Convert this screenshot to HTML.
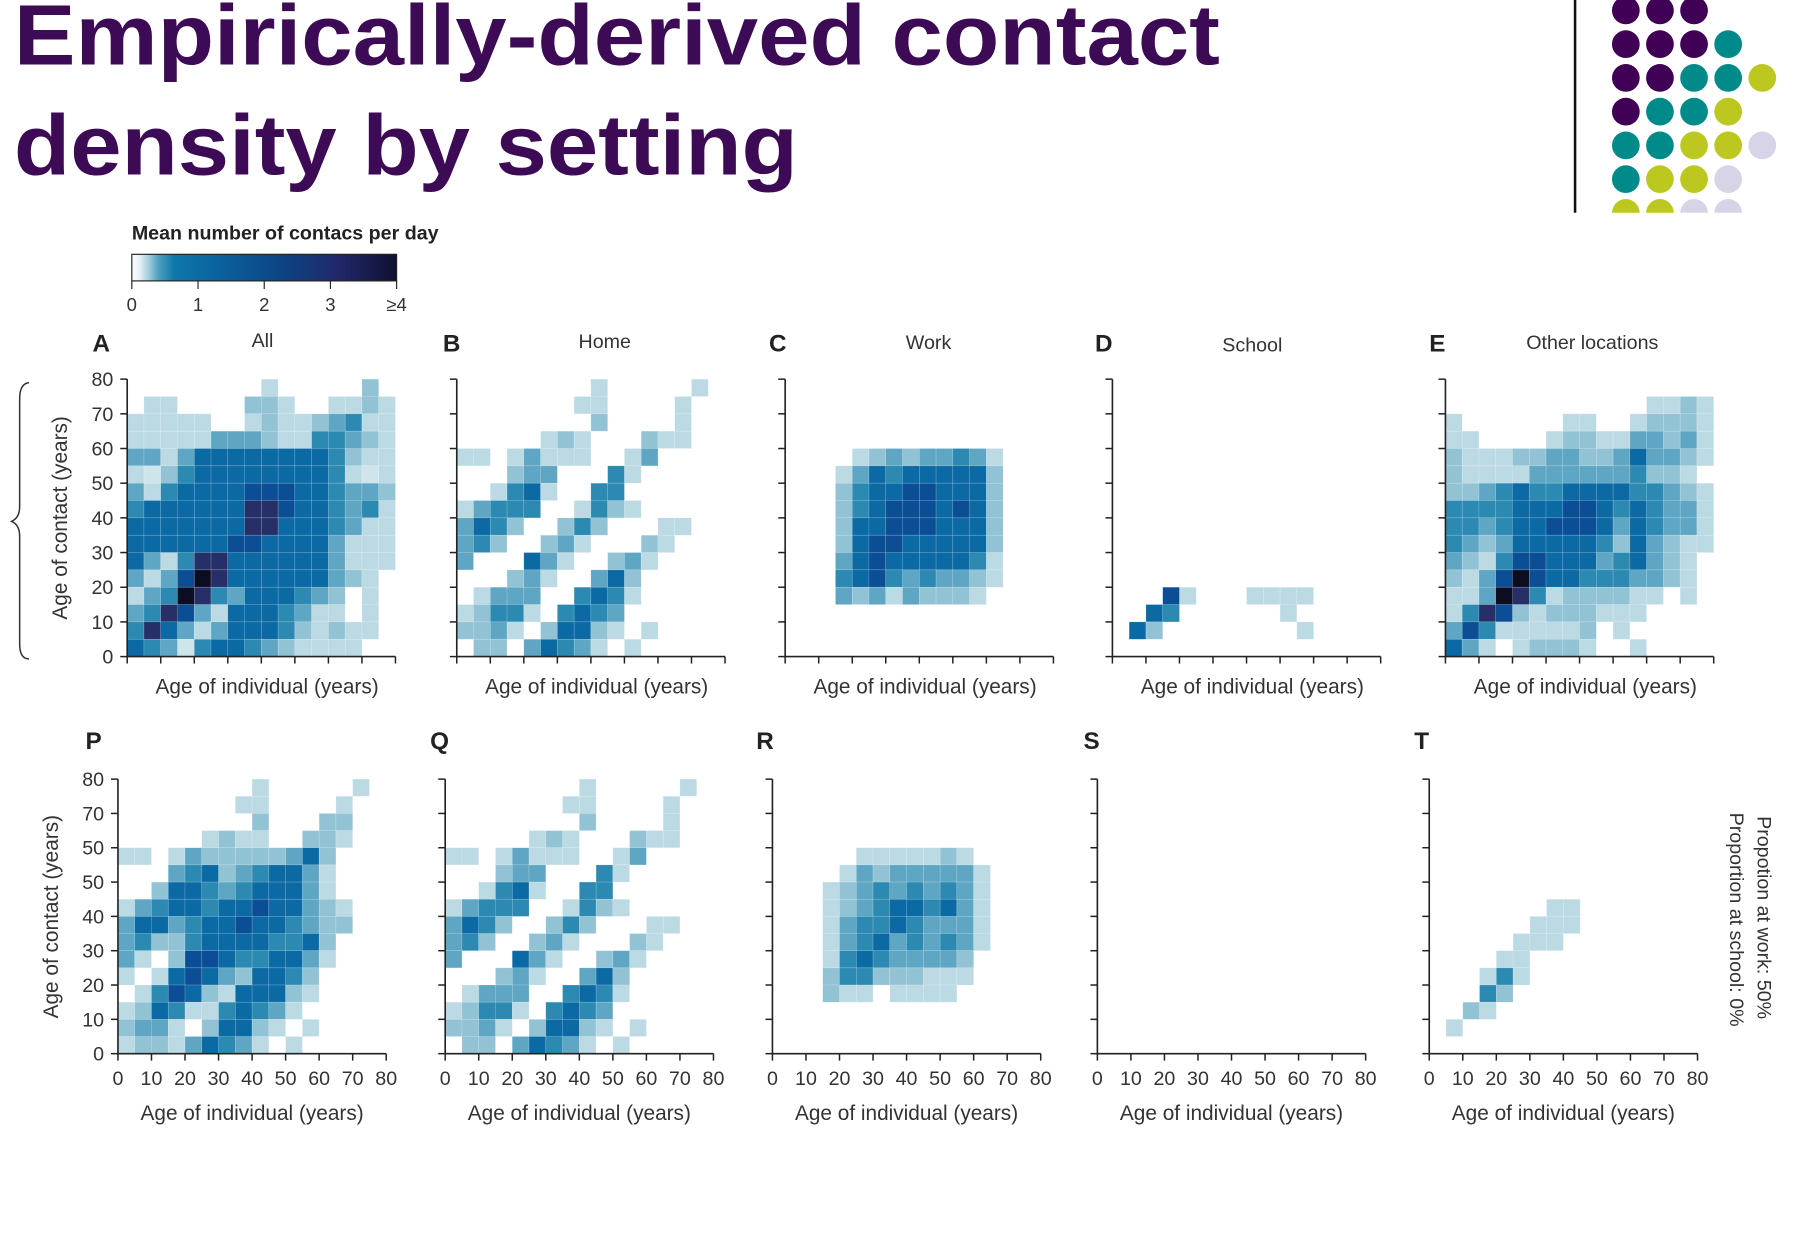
<!DOCTYPE html>
<html><head><meta charset="utf-8"><style>
html,body{margin:0;padding:0;background:#fff;}
svg{display:block;font-family:"Liberation Sans",sans-serif;}
</style></head><body>
<svg id="root" width="1812" height="1260" viewBox="0 0 1567 1090" preserveAspectRatio="none" xmlns="http://www.w3.org/2000/svg">
<defs>
<linearGradient id="cbar" x1="0" x2="1" y1="0" y2="0">
<stop offset="0" stop-color="#ffffff"/><stop offset="0.03" stop-color="#e4f1f5"/><stop offset="0.06" stop-color="#a9d2e0"/><stop offset="0.1" stop-color="#4fa0c0"/><stop offset="0.16" stop-color="#0f78ab"/><stop offset="0.3" stop-color="#0b65a1"/><stop offset="0.55" stop-color="#0c4686"/><stop offset="0.78" stop-color="#21286a"/><stop offset="1" stop-color="#0e1030"/>
</linearGradient>
<clipPath id="dotclip"><rect x="1380" y="0" width="187" height="184"/></clipPath>
</defs>
<text x="12" y="56" font-size="74" font-weight="bold" fill="#3d0a55" textLength="1043" lengthAdjust="spacingAndGlyphs">Empirically-derived contact</text>
<text x="12" y="151" font-size="74" font-weight="bold" fill="#3d0a55" textLength="678" lengthAdjust="spacingAndGlyphs">density by setting</text>
<rect x="1361" y="0" width="2.2" height="184" fill="#111"/>
<g id="dots" clip-path="url(#dotclip)"></g>
<text x="114" y="207" font-size="17" font-weight="bold" fill="#222">Mean number of contacs per day</text>
<rect x="114" y="220" width="229" height="23" fill="url(#cbar)" stroke="#222" stroke-width="1"/>
<g id="cbticks"></g>
<path d="M25,331 Q17,332 17,345 L17,438 Q17,448 10,451 Q17,454 17,464 L17,557 Q17,570 25,570" fill="none" stroke="#333" stroke-width="1.3"/>
<text transform="translate(58,448) rotate(-90)" text-anchor="middle" font-size="18" fill="#333">Age of contact (years)</text>
<text transform="translate(50,793) rotate(-90)" text-anchor="middle" font-size="18" fill="#333">Age of contact (years)</text>
<text transform="translate(1520,706) rotate(90)" font-size="17" fill="#333">Propotion at work: 50%</text>
<text transform="translate(1496,703) rotate(90)" font-size="17" fill="#333">Proportion at school: 0%</text>
<g id="panels"></g>
</svg>
<script>
const cbTickValues = [0,1,2,3,4];
const cbTickLabels = ["0","1","2","3","≥4"];
const ageTicks = [0,10,20,30,40,50,60,70,80];
const yTickLabelsTop = ["0","10","20","30","40","50","60","70","80"];
const yTickLabelsBottom = ["0","10","20","30","40","50","50","70","80"];
const levelValues = [0,0.08,0.15,0.3,0.5,0.75,1.1,1.7,2.6,4];
const levelColors = ["none","#cfe5ec","#bcdae4","#92c3d5","#5ea6c3","#2b89b2","#0b69a4","#0b4e95","#262f68","#0d0d22"];
const Z="0000000000000000";
const dataA = ["0000000020000030","0220000332002232","2222200232234522","2222244432255432","4424666666665322","2135666666665212","4256666777665443","5666666887665452","6666666886665422","6666667766664222","6425886666664222","4247986666664320","2459854666543020","4587426665422020","5864246665323220","6541566543222200"];
const dataB = ["0000000020000020","0000000220000200","0000000030000200","0000023200032200","2202422200240000","0003440005200000","0025620055000000","2455500253200000","4653003530002200","4530034200032000","4000642003420000","0003420046300000","0244400565200000","2355205654000000","3342036632020000","0330465420200000"];
const dataC = [Z,Z,Z,Z,"0000234344542000","0002465666663000","0003566776663000","0003567776763000","0003667776663000","0003677666663000","0004676666652000","0005675454432000","0004342433320000",Z,Z,Z];
const dataD = [Z,Z,Z,Z,Z,Z,Z,Z,Z,Z,Z,Z,"0007200022220000","0065000000200000","0630000000020000",Z];
const dataE = [Z,"0000000000002232","2000000220023332","2200002332244342","3222334433464432","3222244444453320","3345655666655432","5555666776565442","5545667776465442","5434666665364322","4325776664564320","3247976655544320","2249852333322020","2587323332220000","4752222230200000","6420233320020000"];
const dataP = ["0000000020000020","0000000220000200","0000000030003300","0000023220033200","2202433333463000","0004563456642000","0036654566642000","2456656676643200","4664566766543300","4533566665563000","4203776556642000","2026764366530000","0257632666320000","2365225654200000","3442036632020000","2332465420200000"];
const dataQ = ["0000000020000020","0000000220000200","0000000030000200","0000023200032200","2202422200240000","0003440005200000","0025620055000000","2455500253200000","4653003530002200","4530034200032000","4000642003420000","0003420046300000","0244400565200000","2355205654000000","3342036632020000","0330465420200000"];
const dataR = [Z,Z,Z,Z,"0000022222320000","0000243444442000","0002345454542000","0002345665642000","0002455654442000","0002456454542000","0002565444430000","0003553332220000","0003220222200000",Z,Z,Z];
const dataS = [Z,Z,Z,Z,Z,Z,Z,Z,Z,Z,Z,Z,Z,Z,Z,Z];
const dataT = [Z,Z,Z,Z,Z,Z,Z,"0000000220000000","0000002220000000","0000022200000000","0000220000000000","0002520000000000","0005300000000000","0032000000000000","0200000000000000",Z];
const panelLetters = ["A","B","C","D","E","P","Q","R","S","T"];
const panelTitles = ["All","Home","Work","School","Other locations","","","","",""];
const dotColorsRows = [["P","P","P"],["P","P","P","T"],["P","P","T","T","L"],["P","T","T","L"],["T","T","L","L","V"],["T","L","L","V"],["L","L","V","V"]];

const NS="http://www.w3.org/2000/svg";
function mk(tag, attrs, parent){const e=document.createElementNS(NS,tag);for(const k in attrs)e.setAttribute(k,attrs[k]);parent.appendChild(e);return e;}
function colorFor(v){let best=0,bd=1e9;for(let i=0;i<levelValues.length;i++){const d=Math.abs(levelValues[i]-v);if(d<bd){bd=d;best=i;}}return levelColors[best];}

const dotMap={P:"#3f0055",T:"#008b8a",L:"#bcc820",V:"#d8d4e8"};
const dotsG=document.getElementById('dots');
dotColorsRows.forEach((row,r)=>row.forEach((c,i)=>{
  const d=mk('circle',{cx:1406+29.5*i,cy:9+29.2*r,r:12,fill:dotMap[c]},dotsG);
  
  
}));

const cbG=document.getElementById('cbticks');
const cbX=v=>114+v/4*229;
cbTickValues.forEach((v,i)=>{
  const l=mk('line',{x1:cbX(v),x2:cbX(v),y1:243,y2:250,stroke:"#222","stroke-width":1},cbG);
  
  
  const t=mk('text',{x:cbX(v),y:269,"text-anchor":"middle","font-size":16,fill:"#333"},cbG);
  t.textContent=cbTickLabels[i];
  
  
});

const allData=[dataA,dataB,dataC,dataD,dataE,dataP,dataQ,dataR,dataS,dataT];
const panelsG=document.getElementById('panels');
const layout=[
 {x0:110,top:328,bot:568,lx:80,ly:304,tx:227,ty:300},
 {x0:395,top:328,bot:568,lx:383,ly:304,tx:523,ty:301},
 {x0:679,top:328,bot:568,lx:665,ly:304,tx:803,ty:302},
 {x0:962,top:328,bot:568,lx:947,ly:304,tx:1083,ty:304},
 {x0:1250,top:328,bot:568,lx:1236,ly:304,tx:1377,ty:302},
 {x0:102,top:674,bot:911.5,lx:74,ly:648},
 {x0:385,top:674,bot:911.5,lx:372,ly:648},
 {x0:668,top:674,bot:911.5,lx:654,ly:648},
 {x0:949,top:674,bot:911.5,lx:937,ly:648},
 {x0:1236,top:674,bot:911.5,lx:1223,ly:648}
];
const W=232;
layout.forEach((L,p)=>{
  const g=mk('g',{},panelsG);
  
  
  const xs=a=>L.x0+a/80*W;
  const ys=a=>L.bot-a/80*(L.bot-L.top);
  const data=allData[p];
  data.forEach((row,r)=>{
    const ageY=75-5*r;
    for(let c=0;c<row.length;c++){
      const lev=+row[c]; if(!lev) continue;
      const v=levelValues[lev];
      const ageX=5*c;
      const rc=mk('rect',{x:xs(ageX),y:ys(ageY+5),width:xs(ageX+5)-xs(ageX),height:ys(ageY)-ys(ageY+5),fill:colorFor(v),stroke:"#ffffff","stroke-opacity":0.25,"stroke-width":0.5},g);
      
      
    }
  });
  const ax=mk('path',{d:`M${L.x0},${L.top} L${L.x0},${L.bot} L${L.x0+W},${L.bot}`,fill:"none",stroke:"#222","stroke-width":1.4},g);
  
  
  const row2=p>=5;
  ageTicks.forEach((a,i)=>{
    const ty=mk('line',{x1:L.x0-6,x2:L.x0,y1:ys(a),y2:ys(a),stroke:"#222","stroke-width":1.3},g);
    
    
    const tx=mk('line',{x1:xs(a),x2:xs(a),y1:L.bot,y2:L.bot+6,stroke:"#222","stroke-width":1.3},g);
    
    
    if(p===0||p===5){
      const yl=mk('text',{x:L.x0-12,y:ys(a)+6,"text-anchor":"end","font-size":17,fill:"#333"},g);
      yl.textContent=(p===0?yTickLabelsTop:yTickLabelsBottom)[i];
      
      
    }
    if(row2){
      const xl=mk('text',{x:xs(a),y:L.bot+27,"text-anchor":"middle","font-size":17,fill:"#333"},g);
      xl.textContent=String(a);
      
      
    }
  });
  const xt=mk('text',{x:row2?L.x0+116:L.x0+121,y:row2?969:600,"text-anchor":"middle","font-size":18,fill:"#333"},g);
  xt.textContent="Age of individual (years)";
  
  
  const lt=mk('text',{x:L.lx,y:L.ly,"font-size":21,"font-weight":"bold",fill:"#222"},g);
  lt.textContent=panelLetters[p];
  
  
  if(panelTitles[p]){
    const tt=mk('text',{x:L.tx,y:L.ty,"text-anchor":"middle","font-size":17,fill:"#333"},g);
    tt.textContent=panelTitles[p];
    
    
  }
});
</script>
</body></html>
